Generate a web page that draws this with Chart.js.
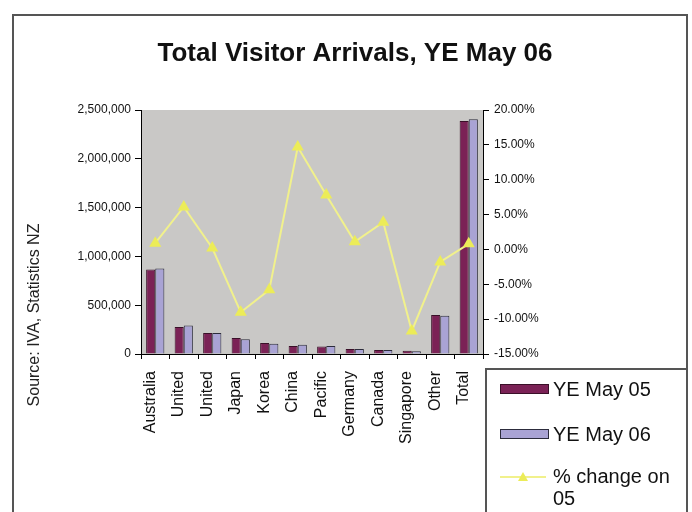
<!DOCTYPE html>
<html>
<head>
<meta charset="utf-8">
<script src="https://cdn.jsdelivr.net/npm/chart.js@4"></script>
<style>
  html, body { margin: 0; padding: 0; background: #fff; }
  #wrap { width: 692px; height: 512px; position: relative; }
</style>
</head>
<body>
<div id="wrap"><canvas id="visitorChart" width="692" height="512"></canvas></div>
<script>
// Data
const countries = ["Australia", "United", "United", "Japan", "Korea", "China", "Pacific", "Germany", "Canada", "Singapore", "Other", "Total"];
const yeMay05 = [866000, 276000, 215000, 165000, 113000, 82000, 76000, 50000, 40000, 33000, 400000, 2387000];
const yeMay06 = [877000, 293000, 216000, 150000, 106000, 94000, 82000, 51000, 42000, 29000, 393000, 2406000];
const pctChange = [0.9, 6.1, 0.2, -9.0, -5.8, 14.7, 7.8, 1.1, 3.9, -11.7, -1.8, 0.8];

const FONT = "'Liberation Sans', Arial, sans-serif";
const NARROW = "'Liberation Sans Narrow', 'Arial Narrow', 'Liberation Sans', sans-serif";

// Plot area
const plotLeft = 141, plotRight = 483, plotTop = 110, plotBottom = 354;

// Gray plot background, frame, title, source note and the boxed legend
const decorPlugin = {
  id: "decor",
  beforeDraw(chart) {
    const { ctx, chartArea } = chart;
    ctx.save();
    ctx.fillStyle = "#c9c8c6";
    ctx.fillRect(chartArea.left, chartArea.top, chartArea.right - chartArea.left, chartArea.bottom - chartArea.top);
    ctx.restore();
  },
  afterDraw(chart) {
    const ctx = chart.ctx;
    ctx.save();
    // outer frame
    ctx.strokeStyle = "#555";
    ctx.lineWidth = 2;
    ctx.strokeRect(13, 15, 674, 510);

    // title
    ctx.fillStyle = "#111";
    ctx.font = "bold 26px " + FONT;
    ctx.textAlign = "center";
    ctx.textBaseline = "middle";
    ctx.fillText("Total Visitor Arrivals, YE May 06", 355, 54);

    // source note
    ctx.save();
    ctx.translate(35, 315);
    ctx.rotate(-Math.PI / 2);
    ctx.font = "16px " + FONT;
    ctx.fillStyle = "#222";
    ctx.fillText("Source: IVA, Statistics NZ", 0, 0);
    ctx.restore();

    // legend box
    ctx.strokeStyle = "#555";
    ctx.lineWidth = 2;
    ctx.strokeRect(486, 369, 201, 160);
    const ds = chart.data.datasets;
    ctx.font = "20px " + FONT;
    ctx.textAlign = "left";
    // bar entries
    [0, 1].forEach((i, k) => {
      const y = 389 + k * 45;
      ctx.fillStyle = ds[i].backgroundColor;
      ctx.fillRect(500, y - 4, 48, 9);
      ctx.strokeStyle = ds[i].borderColor;
      ctx.lineWidth = 1;
      ctx.strokeRect(500.5, y - 4.5, 48, 9);
      ctx.fillStyle = "#111";
      ctx.fillText(ds[i].label, 553, y + 1);
    });
    // line entry
    const ly = 477;
    ctx.strokeStyle = ds[2].borderColor;
    ctx.lineWidth = 2;
    ctx.beginPath();
    ctx.moveTo(500, ly);
    ctx.lineTo(546, ly);
    ctx.stroke();
    ctx.fillStyle = ds[2].pointBackgroundColor;
    ctx.beginPath();
    ctx.moveTo(523, ly - 5);
    ctx.lineTo(528, ly + 4);
    ctx.lineTo(518, ly + 4);
    ctx.closePath();
    ctx.fill();
    ctx.fillStyle = "#111";
    ctx.fillText("% change on", 553, ly);
    ctx.fillText("05", 553, ly + 22);
    ctx.restore();
  }
};

const ctx = document.getElementById("visitorChart");
new Chart(ctx, {
  type: "bar",
  data: {
    labels: countries,
    datasets: [
      {
        label: "YE May 05",
        data: yeMay05,
        backgroundColor: "#7b2256",
        borderColor: "#3a1028",
        borderWidth: 1,
        yAxisID: "y",
        order: 2,
        categoryPercentage: 0.64,
        barPercentage: 1.0
      },
      {
        label: "YE May 06",
        data: yeMay06,
        backgroundColor: "#a9a3d4",
        borderColor: "#2c2c3c",
        borderWidth: 1,
        yAxisID: "y",
        order: 2,
        categoryPercentage: 0.64,
        barPercentage: 1.0
      },
      {
        type: "line",
        label: "% change on 05",
        data: pctChange,
        yAxisID: "y1",
        borderColor: "#f1f18c",
        borderWidth: 2,
        pointStyle: "triangle",
        pointRadius: 5,
        pointBackgroundColor: "#ecec58",
        pointBorderColor: "#ecec58",
        tension: 0,
        order: 0
      }
    ]
  },
  options: {
    responsive: false,
    animation: false,
    layout: { padding: { left: 0, right: 0, top: plotTop, bottom: 0 } },
    plugins: {
      legend: { display: false },
      title: { display: false },
      tooltip: { enabled: false }
    },
    scales: {
      x: {
        afterFit: (scale) => { scale.height = 512 - plotBottom; },
        grid: { display: true, drawOnChartArea: false, tickLength: 5, color: "#000", offset: true },
        border: { color: "#000", width: 1 },
        ticks: {
          maxRotation: 90,
          minRotation: 90,
          autoSkip: false,
          padding: 12,
          labelOffset: -5,
          color: "#111",
          font: { family: FONT, size: 16 }
        }
      },
      y: {
        position: "left",
        min: 0,
        max: 2500000,
        afterFit: (scale) => { scale.width = plotLeft; },
        grid: { display: true, drawOnChartArea: false, tickLength: 6, color: "#000" },
        border: { color: "#000", width: 1 },
        ticks: {
          stepSize: 500000,
          padding: 4,
          color: "#111",
          font: { family: NARROW, size: 12 },
          callback: (v) => v.toLocaleString("en-US")
        }
      },
      y1: {
        position: "right",
        min: -15,
        max: 20,
        afterFit: (scale) => { scale.width = 692 - plotRight; },
        grid: { display: true, drawOnChartArea: false, tickLength: 6, color: "#000" },
        border: { color: "#000", width: 1 },
        ticks: {
          stepSize: 5,
          padding: 5,
          color: "#111",
          font: { family: FONT, size: 12 },
          callback: (v) => v.toFixed(2) + "%"
        }
      }
    }
  },
  plugins: [decorPlugin]
});
</script>
</body>
</html>
